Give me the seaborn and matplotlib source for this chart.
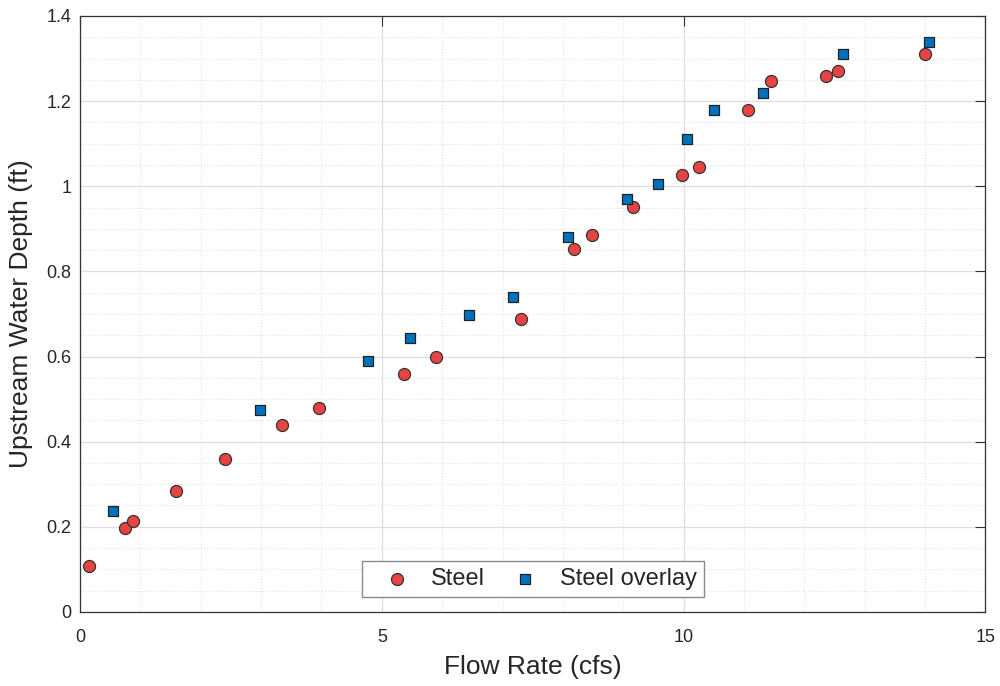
import matplotlib
matplotlib.use("Agg")
import matplotlib.pyplot as plt
import numpy as np
import pandas as pd
import seaborn as sns
from matplotlib.ticker import MultipleLocator, FuncFormatter

# Steel (red circles)
steel_flow = [0.155, 0.745, 0.878, 1.585, 2.41, 3.34, 3.96, 5.36, 5.89, 7.30,
              8.18, 8.48, 9.16, 9.97, 10.26, 11.07, 11.44, 12.36, 12.56, 14.0]
steel_depth = [0.107, 0.198, 0.213, 0.285, 0.359, 0.438, 0.478, 0.559, 0.600, 0.687,
               0.853, 0.885, 0.951, 1.027, 1.045, 1.180, 1.247, 1.260, 1.270, 1.311]

# Steel overlay (blue squares)
overlay_flow = [0.55, 2.98, 4.77, 5.47, 6.45, 7.18, 8.09, 9.06, 9.58, 10.06,
                10.51, 11.31, 12.64, 14.07]
overlay_depth = [0.238, 0.474, 0.590, 0.644, 0.697, 0.739, 0.880, 0.969, 1.005, 1.110,
                 1.180, 1.219, 1.310, 1.340]

df_steel = pd.DataFrame({'flow': steel_flow, 'depth': steel_depth})
df_overlay = pd.DataFrame({'flow': overlay_flow, 'depth': overlay_depth})

sns.set_style("white")
plt.rcParams['font.family'] = ['Liberation Sans', 'DejaVu Sans']

fig = plt.figure(figsize=(10, 6.86), dpi=100)
ax = fig.add_axes([0.08, 0.108, 0.9055, 0.8687])

sns.scatterplot(data=df_steel, x='flow', y='depth', ax=ax, marker='o', s=75,
                color='#E84343', edgecolor='#333333', linewidth=0.9, label='Steel', zorder=3)
sns.scatterplot(data=df_overlay, x='flow', y='depth', ax=ax, marker='s', s=55,
                color='#0072BD', edgecolor='#222222', linewidth=0.9, label='Steel overlay', zorder=3)

ax.set_xlim(0, 15)
ax.set_ylim(0, 1.4)
ax.xaxis.set_major_locator(MultipleLocator(5))
ax.xaxis.set_minor_locator(MultipleLocator(1))
ax.yaxis.set_major_locator(MultipleLocator(0.2))
ax.yaxis.set_minor_locator(MultipleLocator(0.05))
ax.yaxis.set_major_formatter(FuncFormatter(lambda v, p: ('%.1f' % v).rstrip('0').rstrip('.') if abs(v) > 1e-9 else '0'))
ax.xaxis.set_major_formatter(FuncFormatter(lambda v, p: '%d' % round(v)))

ax.grid(which='major', color='#DEDEDE', linestyle='-', linewidth=0.9, zorder=0)
ax.grid(which='minor', color='#E2E2E2', linestyle=':', linewidth=0.8, zorder=0)
ax.set_axisbelow(True)

ax.tick_params(which='major', direction='in', length=7, width=0.8, color='#333333',
               top=True, right=True, labelsize=13, labelcolor='#262626')
ax.tick_params(axis='x', which='major', pad=12)
ax.tick_params(axis='y', which='major', pad=6)
ax.tick_params(which='minor', length=0)
for sp in ax.spines.values():
    sp.set_color('#333333')
    sp.set_linewidth(0.9)

ax.set_xlabel('Flow Rate (cfs)', fontsize=19, color='#262626', labelpad=7)
ax.set_ylabel('Upstream Water Depth (ft)', fontsize=19, color='#262626', labelpad=10)

leg = ax.legend(loc='lower center', bbox_to_anchor=(0.5, 0.025), ncol=2, fontsize=17,
                frameon=True, fancybox=False, edgecolor='#8a8a8a', framealpha=1,
                handlelength=2.4, handletextpad=0.25, columnspacing=0.5,
                borderpad=0.3, borderaxespad=0.0)
leg.get_frame().set_linewidth(1.0)

fig.savefig('out.png', dpi=100)
